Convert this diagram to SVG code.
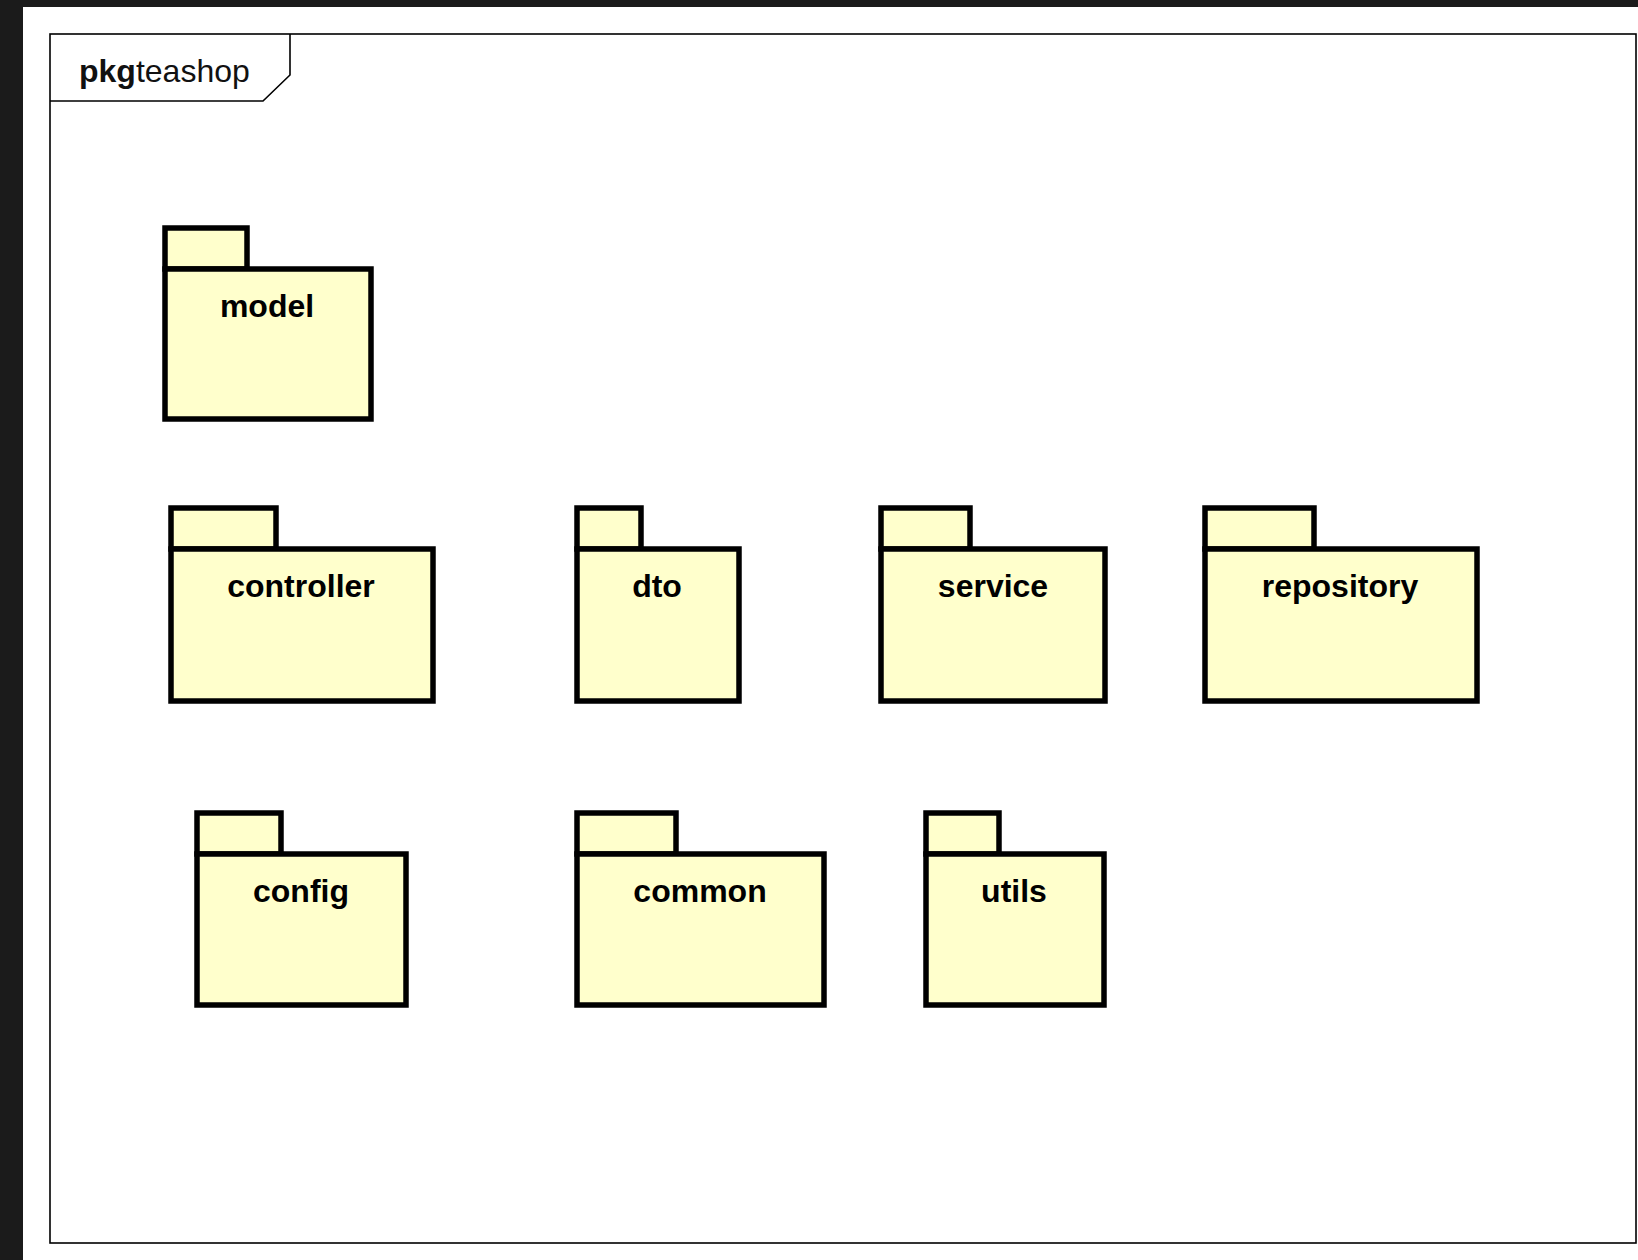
<svg xmlns="http://www.w3.org/2000/svg" width="1638" height="1260" viewBox="0 0 1638 1260">
<style>
.frame{fill:none;stroke:#000;stroke-width:1.6}
.pkg{fill:#FFFFCC;stroke:#000;stroke-width:5.5;stroke-linejoin:miter}
.lbl{font-family:"Liberation Sans",Arial,sans-serif;font-size:32px;font-weight:bold;text-anchor:middle;fill:#000}
.title{font-family:"Liberation Sans",Arial,sans-serif;font-size:32px;fill:#111}
</style>
<rect x="0" y="0" width="1638" height="1260" fill="#1b1b1b"/>
<rect x="23" y="7" width="1615" height="1253" fill="#ffffff"/>
<g id="frame">
<rect class="frame" x="50" y="34" width="1586" height="1209"/>
<path class="frame" d="M50 101 H263 L290 75 V34"/>
<text class="title" x="79" y="82"><tspan font-weight="bold">pkg</tspan>teashop</text>
</g>
<g id="connectors"></g>
<g id="model">
<rect class="pkg" x="165" y="228" width="82" height="41"/>
<rect class="pkg" x="165" y="269" width="206" height="150"/>
<text class="lbl" x="267" y="317">model</text>
</g>
<g id="controller">
<rect class="pkg" x="171" y="508" width="105" height="41"/>
<rect class="pkg" x="171" y="549" width="262" height="152"/>
<text class="lbl" x="301" y="597">controller</text>
</g>
<g id="dto">
<rect class="pkg" x="577" y="508" width="64" height="41"/>
<rect class="pkg" x="577" y="549" width="162" height="152"/>
<text class="lbl" x="657" y="597">dto</text>
</g>
<g id="service">
<rect class="pkg" x="881" y="508" width="89" height="41"/>
<rect class="pkg" x="881" y="549" width="224" height="152"/>
<text class="lbl" x="993" y="597">service</text>
</g>
<g id="repository">
<rect class="pkg" x="1205" y="508" width="109" height="41"/>
<rect class="pkg" x="1205" y="549" width="272" height="152"/>
<text class="lbl" x="1340" y="597">repository</text>
</g>
<g id="config">
<rect class="pkg" x="197" y="813" width="84" height="41"/>
<rect class="pkg" x="197" y="854" width="209" height="151"/>
<text class="lbl" x="301" y="902">config</text>
</g>
<g id="common">
<rect class="pkg" x="577" y="813" width="99" height="41"/>
<rect class="pkg" x="577" y="854" width="247" height="151"/>
<text class="lbl" x="700" y="902">common</text>
</g>
<g id="utils">
<rect class="pkg" x="926" y="813" width="73" height="41"/>
<rect class="pkg" x="926" y="854" width="178" height="151"/>
<text class="lbl" x="1014" y="902">utils</text>
</g>
</svg>
